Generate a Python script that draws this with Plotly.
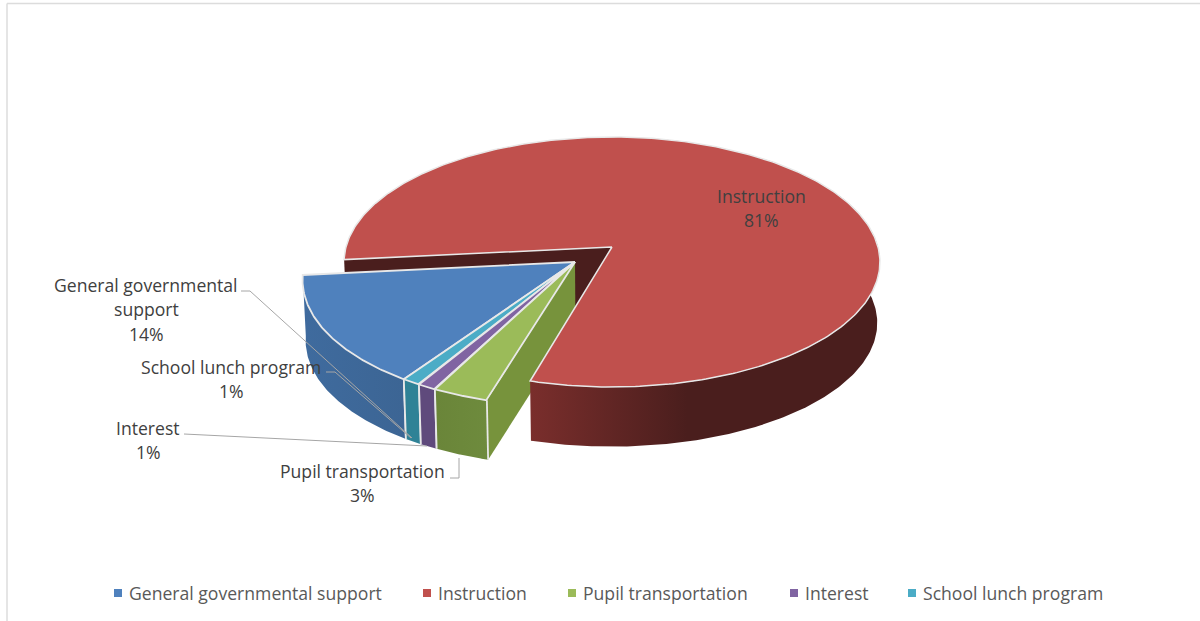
import math
import plotly.graph_objects as go

# Budget shares, in pie order (clockwise from the first slice)
categories = ["General governmental support", "Instruction", "Pupil transportation", "Interest", "School lunch program"]
shares = [14, 81, 3, 1, 1]
top_colors = ["#4F81BD", "#C0504D", "#9BBB59", "#8064A2", "#4BACC6"]
wall_left = ["#3F6B9E", "#7A2E2C", "#6A8539", "#5F4A7C", "#2F8296"]
wall_right = ["#3C6594", "#4A1E1D", "#6E8B3D", "#5F4A7C", "#2F8296"]

label_lines = {
    0: ["General governmental", "support"],
    1: ["Instruction"],
    2: ["Pupil transportation"],
    3: ["Interest"],
    4: ["School lunch program"],
}
label_centers = {0: (146, 284.5), 1: (761, 195.5), 2: (362, 470.5), 3: (148, 427.5), 4: (231, 366.5)}
leader_paths = {
    0: [(241, 291), (250, 291), (412, 438)],
    2: [(450, 478), (459, 478), (459, 458)],
    3: [(184, 434), (427, 446)],
    4: [(326, 372), (335, 372), (411, 438)],
}
legend_marks = [118, 427, 572, 794, 912]

# Perspective model of the pie disc, in pixel units on the hidden axes
APEX_X, APEX_Y = 612, 247
SCALE_X, SCALE_Y, PERSP = 266, 123.2, 0.12
FIRST_ANGLE = 213.8
EXPLODE = {0: (-0.137, -0.12), 1: (0, 0), 2: (-0.137, -0.12), 3: (-0.137, -0.12), 4: (-0.137, -0.12)}
DEPTH, SHRINK = 61, 0.99
RIM = "#E8E8E8"


def project(u, v):
    w = 1 + PERSP * v
    return APEX_X + SCALE_X * u / w, APEX_Y - SCALE_Y * v / w


def lower(p):
    return (APEX_X + (p[0] - APEX_X) * SHRINK, APEX_Y + (p[1] - APEX_Y) * SHRINK + DEPTH)


def rim_point(i, deg):
    du, dv = EXPLODE[i]
    a = math.radians(deg)
    return project(du + math.sin(a), dv + math.cos(a))


def apex(i):
    return project(*EXPLODE[i])


def arc(i, a0, a1, n=90):
    return [rim_point(i, a0 + (a1 - a0) * k / n) for k in range(n + 1)]


def polygon(points, color=None, gradient=None, line=None, width=0):
    xs = [p[0] for p in points] + [points[0][0]]
    ys = [p[1] for p in points] + [points[0][1]]
    kw = dict(
        x=xs, y=ys, mode="lines", fill="toself", hoverinfo="skip", showlegend=False,
        line=dict(color=line or "rgba(0,0,0,0)", width=width),
    )
    if gradient:
        kw["fillgradient"] = dict(
            type="horizontal",
            colorscale=[[s, c] for s, c in gradient],
        )
    else:
        kw["fillcolor"] = color
    return go.Scatter(**kw)


def stroke(points, color=RIM, width=1.8):
    return go.Scatter(
        x=[p[0] for p in points], y=[p[1] for p in points], mode="lines",
        line=dict(color=color, width=width), hoverinfo="skip", showlegend=False,
    )


# Slice angles, measured clockwise from twelve o'clock
spans = []
start = FIRST_ANGLE
for share in shares:
    spans.append((start, start + share * 3.6))
    start += share * 3.6
spans = [spans[0], spans[1]] + [(a % 360, b % 360) for a, b in spans[2:]]

fig = go.Figure()

# Back walls first: Instruction's cut face and the exposed side of Pupil transportation
s0, s1 = spans[1]
fig.add_trace(polygon(
    [apex(1), rim_point(1, s0), lower(rim_point(1, s0)), lower(apex(1))], color="#4A1E1D"))
pupil_edge = rim_point(2, spans[2][0])
fig.add_trace(polygon(
    [apex(2), pupil_edge, lower(pupil_edge), lower(apex(2))], color="#77933C"))

# Instruction: outer wall, then the top face
front = arc(1, 420, s1, 160)
fig.add_trace(polygon(
    front + [lower(p) for p in reversed(front)],
    gradient=[(0, wall_left[1]), (0.45, wall_right[1]), (1, wall_right[1])]))
fig.add_trace(polygon([apex(1)] + arc(1, s0, s1, 360), color=top_colors[1], line=RIM, width=1.5))

# Remaining slices, drawn from the far side of the pie to the near side
for i in [0, 4, 3, 2]:
    s0, s1 = spans[i]
    rim = arc(i, s0, s1)
    fig.add_trace(polygon(
        rim + [lower(p) for p in reversed(rim)],
        gradient=[(0, wall_left[i]), (1, wall_right[i])]))
    near = rim_point(i, s0)
    fig.add_trace(stroke([near, lower(near)]))
    if i != 0:
        far = rim_point(i, s1)
        fig.add_trace(stroke([far, lower(far)]))
    fig.add_trace(polygon([apex(i)] + rim, color=top_colors[i], line=RIM, width=1.8))

# Leader lines from the data labels to their slices
for path in leader_paths.values():
    fig.add_trace(stroke(path, color="#A6A6A6", width=1))

annotations = []


def put_text(x, y, text, color, anchor="center"):
    annotations.append(dict(
        x=x, y=y, xref="x", yref="y", text=text, showarrow=False, xanchor=anchor, yanchor="middle",
        font=dict(family="Open Sans", size=17.6, color=color),
    ))


# Data labels: category lines followed by the share
LINE_STEP = 24.5
for i, lines in label_lines.items():
    cx, cy = label_centers[i]
    for k, text in enumerate(lines + [f"{shares[i]}%"]):
        put_text(cx, cy + k * LINE_STEP, text, "#404040")

# Legend row along the bottom
LEGEND_Y = 593
for name, mark_x, color in zip(categories, legend_marks, top_colors):
    fig.add_trace(go.Scatter(
        x=[mark_x], y=[LEGEND_Y], mode="markers", hoverinfo="skip", showlegend=False,
        marker=dict(symbol="square", size=8, color=color),
    ))
    put_text(mark_x + 9, LEGEND_Y, name, "#595959", anchor="left")

fig.update_layout(
    width=1200, height=621, margin=dict(l=0, r=0, t=0, b=0),
    paper_bgcolor="white", plot_bgcolor="white",
    xaxis=dict(visible=False, range=[0, 1200], fixedrange=True),
    yaxis=dict(visible=False, range=[621, 0], fixedrange=True),
    annotations=annotations,
    shapes=[
        dict(type="line", xref="paper", yref="paper", x0=7 / 1200, x1=1, y0=1 - 3.5 / 621, y1=1 - 3.5 / 621,
             line=dict(color="#DCDCDC", width=1.5)),
        dict(type="line", xref="paper", yref="paper", x0=7 / 1200, x1=7 / 1200, y0=0, y1=1 - 3.5 / 621,
             line=dict(color="#DCDCDC", width=1.5)),
    ],
)

fig.write_html("out.html", config={"displayModeBar": False})
